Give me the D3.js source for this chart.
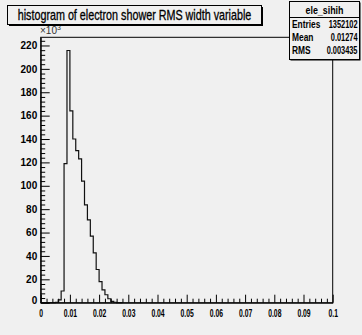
<!DOCTYPE html>
<html><head><meta charset="utf-8">
<script src="https://cdn.jsdelivr.net/npm/d3@7"></script>
<style>
html,body{margin:0;padding:0;background:#f0f0f0;}
svg{display:block;}
text{font-family:"Liberation Sans",Arial,sans-serif;}
</style></head>
<body>
<script>
// Data (counts in units of 10^3), bin width 0.001 from 0 to 0.1
const binWidth = 0.001;
const counts = [0,0,0,0,0,0.2,2.5,10,119,215.7,164,140,130,123,104,83.6,70.8,57,42.6,28.4,18,11,6.8,3.4,1.1,0.4,0.15,0];
const xMajorTicks = [0,0.01,0.02,0.03,0.04,0.05,0.06,0.07,0.08,0.09,0.1];
const xTickLabels = ["0","0.01","0.02","0.03","0.04","0.05","0.06","0.07","0.08","0.09","0.1"];
const yMajorTicks = [0,20,40,60,80,100,120,140,160,180,200,220];
const titleText = "histogram of electron shower RMS width variable";
const statsName = "ele_sihih";
const statsLabels = ["Entries","Mean","RMS"];
const statsValues = ["1352102","0.01274","0.003435"];

const W = 362, H = 335;
const svg = d3.select("body").append("svg").attr("width", W).attr("height", H);
svg.append("rect").attr("width", W).attr("height", H).attr("fill", "#f0f0f0");

// horizontally condense a text around its anchor x using a transform
function squeeze(sel, ax, f) {
  sel.attr("transform", `translate(${ax*(1-f)},0) scale(${f},1)`);
}

const pLeft = 40.7, pRight = 332.7, pTop = 37.3, pBottom = 302.7;
const x = d3.scaleLinear().domain([0, 0.1]).range([pLeft, pRight]);
const y = d3.scaleLinear().domain([0, 227]).range([pBottom, pTop]);

// frame
svg.append("rect").attr("x", pLeft).attr("y", pTop).attr("width", pRight-pLeft).attr("height", pBottom-pTop)
  .attr("fill", "#f0f0f0").attr("stroke", "#000").attr("stroke-width", 1);

// histogram
const pts = [[0, 0]];
counts.forEach((v, i) => { pts.push([i*binWidth, v]); });
pts.push([counts.length*binWidth, 0]);
const line = d3.line().x(d => x(d[0])).y(d => y(d[1])).curve(d3.curveStepAfter);
svg.append("path").attr("d", line(pts)).attr("fill", "none").attr("stroke", "#111").attr("stroke-width", 1.2);

// x axis minor
const xMinor = d3.range(0, 0.1001, 0.002).filter(v => Math.abs(Math.round(v*100) - v*100) > 1e-6);
svg.append("g").attr("transform", `translate(0,${pBottom})`)
  .call(d3.axisBottom(x).tickValues(xMinor).tickSizeInner(-4).tickSizeOuter(0).tickFormat(""))
  .call(g => g.select(".domain").remove());
const gx = svg.append("g").attr("transform", `translate(0,${pBottom})`)
  .call(d3.axisBottom(x).tickValues(xMajorTicks).tickSizeInner(-8).tickSizeOuter(0).tickPadding(7)
    .tickFormat((d, i) => xTickLabels[i]));
gx.select(".domain").attr("stroke", "#000");
gx.selectAll("text").attr("font-size", 10).attr("font-weight", "bold").attr("fill", "#000")
  .attr("transform", "scale(0.68,1)");

// y axis
const yMinor = d3.range(0, 227, 4).filter(v => v % 20 !== 0);
svg.append("g").attr("transform", `translate(${pLeft},0)`)
  .call(d3.axisLeft(y).tickValues(yMinor).tickSizeInner(-4.5).tickSizeOuter(0).tickFormat(""))
  .call(g => g.select(".domain").remove());
const gy = svg.append("g").attr("transform", `translate(${pLeft},0)`)
  .call(d3.axisLeft(y).tickValues(yMajorTicks).tickSizeInner(-9).tickSizeOuter(0).tickPadding(3.5));
gy.select(".domain").attr("stroke", "#000");
gy.selectAll("text").attr("font-size", 10).attr("font-weight", "bold").attr("fill", "#000");
gy.selectAll(".tick").filter(d => d === 0).select("text").attr("dy", "0.1em");

// x10^3 label
const mult = svg.append("text").attr("x", 40).attr("y", 34).attr("font-size", 10).attr("fill", "#333");
mult.append("tspan").text("×10");
mult.append("tspan").attr("dy", -4).attr("font-size", 7).text("3");

// title box with shadow
svg.append("rect").attr("x", 9).attr("y", 7).attr("width", 254).attr("height", 19).attr("fill", "#000");
svg.append("rect").attr("x", 7.5).attr("y", 5.5).attr("width", 254).attr("height", 19)
  .attr("fill", "#f0f0f0").attr("stroke", "#000").attr("stroke-width", 1);
const title = svg.append("text").attr("x", 134.5).attr("y", 20.5).attr("text-anchor", "middle")
  .attr("font-size", 14).attr("fill", "#000").attr("stroke", "#000").attr("stroke-width", 0.3)
  .text(titleText);
squeeze(title, 134.5, 234 / title.node().getComputedTextLength());

// stats box
const sx = 289.5, sy = 1.5, sw = 70, sh = 58;
svg.append("rect").attr("x", sx+1).attr("y", sy+1).attr("width", sw).attr("height", sh).attr("fill", "#000");
svg.append("rect").attr("x", sx).attr("y", sy).attr("width", sw).attr("height", sh)
  .attr("fill", "#f0f0f0").attr("stroke", "#000").attr("stroke-width", 1);
svg.append("line").attr("x1", sx).attr("x2", sx+sw).attr("y1", 17.5).attr("y2", 17.5).attr("stroke", "#000");
const hdr = svg.append("text").attr("x", sx + sw/2).attr("y", 14).attr("text-anchor", "middle")
  .attr("font-size", 10).attr("font-weight", "bold").attr("fill", "#000").text(statsName);
squeeze(hdr, sx + sw/2, 38 / hdr.node().getComputedTextLength());
statsLabels.forEach((lab, i) => {
  const yy = 28.5 + i*13;
  const t1 = svg.append("text").attr("x", 292).attr("y", yy).attr("font-size", 10).attr("font-weight", "bold")
    .attr("fill", "#000").text(lab);
  squeeze(t1, 292, 0.84);
  const t2 = svg.append("text").attr("x", 357.5).attr("y", yy).attr("text-anchor", "end").attr("font-size", 10)
    .attr("font-weight", "bold").attr("fill", "#000").text(statsValues[i]);
  squeeze(t2, 357.5, 0.74);
});
</script>
</body></html>
